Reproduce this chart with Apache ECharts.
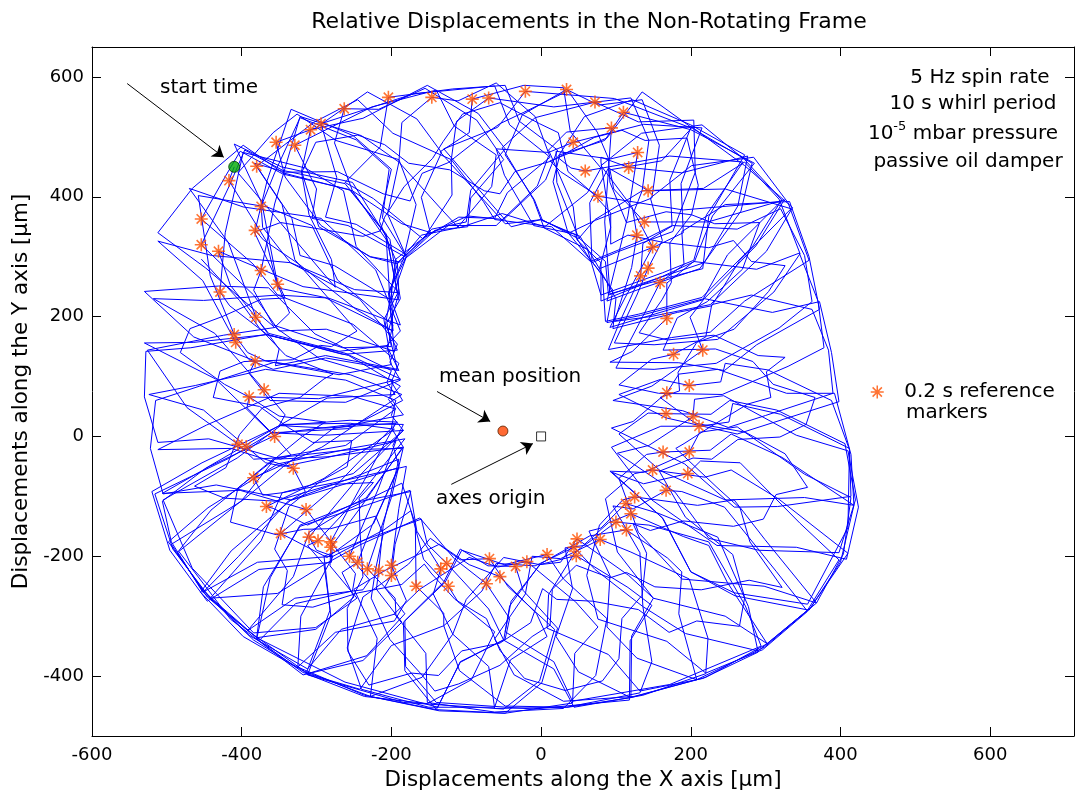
<!DOCTYPE html>
<html>
<head>
<meta charset="utf-8">
<title>Relative Displacements in the Non-Rotating Frame</title>
<script src="https://cdn.jsdelivr.net/npm/echarts@6/dist/echarts.min.js"></script>
<style>
  html, body { margin: 0; padding: 0; background: #fff; }
  #chart { width: 1077px; height: 801px; }
</style>
</head>
<body>
<div id="chart"></div>
<script>
// axis ticks
const xTicks = [-600, -400, -200, 0, 200, 400, 600]
const yTicks = [-400, -200, 0, 200, 400, 600]

// 0.2 s reference markers [x, y] in µm
const markers = [
  [-417, 427], [-374, 384], [-380, 451], [-354, 491], [-329, 486], [-308, 512], [-294, 522],
  [-263, 547], [-204, 566], [-146, 566], [-92, 563], [-70, 565], [-21, 576], [34, 579],
  [43, 491], [72, 558], [59, 443], [94, 515], [110, 541], [76, 401], [129, 474], [117, 449],
  [143, 410], [138, 358], [128, 336], [149, 316], [143, 281], [133, 268], [159, 257],
  [168, 197], [177, 137], [216, 144], [198, 85], [168, 73], [167, 38], [203, 33], [211, 17],
  [198, -26], [163, -26], [196, -62], [149, -56], [167, -90], [125, -101], [113, -112],
  [120, -129], [100, -143], [114, -156], [79, -172], [48, -171], [44, -185], [47, -199],
  [8, -197], [-19, -209], [-34, -217], [-55, -234], [-69, -204], [-73, -246], [-124, -250],
  [-126, -212], [-134, -221], [-167, -250], [-200, -232], [-200, -215], [-217, -224],
  [-232, -221], [-245, -210], [-256, -200], [-281, -185], [-281, -176], [-298, -174],
  [-310, -168], [-348, -162], [-314, -122], [-367, -117], [-331, -53], [-384, -69],
  [-394, -17], [-405, -13], [-356, 0], [-390, 66], [-370, 78], [-382, 126], [-408, 157],
  [-410, 170], [-381, 199], [-429, 241], [-352, 254], [-431, 309], [-454, 320], [-374, 277],
  [-454, 363], [-382, 344]
]

const startPoint = [[-410, 450]]
const meanPoint = [[-51, 9]]
const originPoint = [[0, 0]]

// annotation arrows: [tail, head] in µm
const arrows = [
  [[-553, 589], [-424, 466]],
  [[-139, 75], [-68, 25]],
  [[-120, -80], [-11, -12]]
]

// rotor orbit, µm: spin loops (one 0.2 s loop per line), then slower drifting passes
const orbit = [
  [-410, 450],
  [-417, 427], [-367, 326], [-352, 248], [-289, 232], [-198, 176], [-200, 250], [-180, 300], [-212, 365], [-203, 446], [-247, 495], [-322, 532], [-356, 440],
  [-374, 384], [-372, 349], [-335, 290], [-249, 245], [-190, 240], [-192, 290], [-158, 328], [-119, 403], [-120, 462], [-198, 506], [-245, 562], [-304, 524],
  [-380, 451], [-333, 364], [-322, 302], [-276, 285], [-201, 228], [-194, 296], [-148, 340], [-160, 399], [-133, 474], [-166, 530], [-232, 575], [-301, 515],
  [-354, 491], [-342, 433], [-294, 352], [-229, 300], [-192, 288], [-160, 336], [-112, 348], [-66, 417], [-60, 470], [-116, 518], [-140, 578], [-226, 550],
  [-329, 486], [-300, 413], [-306, 364], [-258, 352], [-182, 300], [-146, 346], [-100, 358], [-94, 411], [-48, 480], [-84, 539], [-152, 586], [-238, 531],
  [-308, 512], [-320, 443], [-297, 350], [-228, 300], [-188, 291], [-124, 352], [-60, 352], [-5, 418], [10, 468], [-42, 520], [-62, 585], [-170, 572],
  [-294, 522], [-273, 432], [-288, 366], [-247, 354], [-178, 302], [-142, 344], [-98, 350], [-94, 398], [-50, 462], [-86, 528], [-155, 581], [-217, 546],
  [-263, 547], [-276, 490], [-252, 410], [-186, 355], [-147, 340], [-98, 368], [-50, 362], [6, 428], [22, 478], [-29, 526], [-48, 586], [-118, 580],
  [-204, 566], [-215, 483], [-262, 424], [-224, 397], [-158, 330], [-110, 366], [-62, 364], [-45, 407], [12, 466], [-8, 534], [-60, 590], [-111, 560],
  [-146, 566], [-186, 524], [-190, 458], [-136, 383], [-110, 348], [-52, 372], [5, 350], [62, 407], [80, 448], [39, 509], [30, 582], [-23, 586],
  [-92, 563], [-96, 507], [-135, 475], [-106, 435], [-48, 355], [1, 362], [50, 330], [72, 362], [135, 410], [144, 494], [120, 565], [17, 550],
  [-70, 565], [-113, 526], [-120, 462], [-77, 392], [-62, 362], [14, 350], [66, 292], [140, 330], [175, 352], [172, 428], [200, 515], [98, 564],
  [-21, 576], [-58, 516], [-130, 480], [-99, 435], [-40, 350], [0, 362], [38, 340], [73, 361], [148, 398], [158, 486], [135, 562], [77, 553],
  [34, 579], [-25, 537], [-48, 470], [-9, 395], [2, 360], [52, 334], [78, 280], [154, 318], [190, 340], [187, 422], [215, 515], [137, 521],
  [43, 491], [10, 474], [-60, 480], [-49, 436], [-10, 352], [44, 338], [68, 290], [102, 308], [176, 342], [206, 441], [204, 528], [130, 525],
  [72, 558], [-8, 532], [-52, 482], [-10, 395], [4, 348], [62, 312], [80, 236], [162, 273], [204, 294], [221, 370], [270, 458], [172, 468],
  [59, 443], [40, 448], [22, 466], [58, 534], [122, 562], [200, 520], [272, 470], [224, 367], [216, 280], [170, 265], [92, 238], [85, 358],
  [94, 515], [34, 508], [10, 478], [43, 383], [48, 328], [80, 290], [80, 226], [162, 267], [205, 292], [229, 368], [285, 456], [200, 512],
  [110, 541], [85, 494], [25, 470], [16, 425], [36, 340], [82, 270], [86, 192], [130, 204], [215, 232], [283, 318], [320, 392], [190, 378],
  [76, 401], [26, 442], [12, 460], [88, 498], [135, 575], [205, 512], [282, 456], [267, 376], [212, 280], [134, 247], [88, 226], [116, 368],
  [129, 474], [92, 463], [20, 476], [21, 424], [50, 332], [86, 292], [90, 236], [134, 255], [218, 290], [263, 385], [276, 468], [188, 440],
  [117, 449], [80, 466], [80, 458], [93, 349], [78, 280], [100, 230], [96, 180], [182, 207], [228, 218], [265, 293], [334, 380], [246, 413],
  [143, 410], [134, 417], [90, 448], [65, 390], [68, 292], [96, 244], [88, 190], [133, 202], [218, 230], [287, 318], [325, 395], [223, 358],
  [138, 358], [97, 413], [92, 445], [161, 460], [202, 516], [272, 452], [336, 382], [301, 309], [226, 220], [146, 200], [98, 192], [121, 282],
  [128, 336], [122, 382], [80, 452], [134, 506], [215, 520], [272, 462], [322, 394], [249, 303], [216, 228], [170, 211], [92, 182], [112, 231],
  [149, 316], [124, 375], [135, 410], [217, 414], [272, 458], [318, 396], [346, 305], [311, 241], [236, 162], [151, 153], [98, 156], [128, 236],
  [143, 281], [162, 327], [146, 398], [201, 452], [284, 466], [330, 390], [358, 294], [272, 226], [226, 174], [174, 165], [90, 145], [104, 188],
  [133, 268], [136, 322], [176, 352], [262, 346], [320, 380], [352, 302], [362, 225], [318, 181], [234, 122], [151, 112], [100, 114], [137, 203],
  [159, 257], [191, 287], [188, 342], [246, 387], [332, 392], [358, 300], [372, 212], [288, 153], [245, 110], [184, 123], [92, 124], [122, 142],
  [168, 197], [168, 256], [204, 292], [288, 279], [345, 306], [370, 226], [378, 148], [330, 117], [242, 70], [157, 72], [104, 86], [148, 129],
  [177, 137], [220, 166], [228, 220], [281, 236], [362, 212], [384, 144], [390, 72], [300, 35], [250, 15], [189, 43], [96, 60], [148, 84],
  [216, 144], [199, 199], [218, 230], [309, 207], [372, 225], [388, 140], [398, 58], [350, 39], [262, 4], [167, 31], [104, 70], [159, 95],
  [198, 85], [240, 91], [246, 122], [303, 111], [388, 60], [412, -22], [414, -100], [316, -117], [258, -118], [192, -46], [94, 14], [123, 25],
  [168, 73], [184, 104], [236, 112], [328, 72], [392, 72], [414, -30], [418, -115], [352, -102], [246, -106], [159, -57], [104, 4], [143, 39],
  [167, 38], [227, 37], [252, 60], [315, 44], [406, -12], [420, -106], [398, -194], [291, -190], [224, -170], [179, -93], [102, -28], [144, -15],
  [203, 33], [205, 62], [244, 68], [341, 2], [410, -24], [424, -118], [408, -205], [341, -185], [235, -182], [148, -106], [94, -18], [160, 17],
  [211, 17], [251, 24], [256, 55], [320, 37], [412, -20], [410, -152], [356, -280], [258, -261], [200, -226], [162, -136], [92, -58], [137, -60],
  [198, -26], [212, 7], [262, 16], [352, -63], [414, -102], [404, -196], [368, -278], [298, -250], [188, -238], [130, -160], [104, -70], [141, -30],
  [163, -26], [226, -23], [254, 4], [322, -35], [418, -115], [400, -210], [358, -290], [259, -266], [200, -226], [163, -137], [95, -60], [137, -79],
  [196, -62], [213, -41], [266, -44], [346, -145], [398, -206], [356, -290], [302, -346], [246, -300], [150, -270], [102, -193], [86, -104], [125, -62],
  [149, -56], [219, -68], [254, -56], [318, -105], [410, -195], [360, -286], [290, -358], [193, -329], [136, -284], [132, -194], [96, -116], [123, -121],
  [167, -90], [188, -92], [245, -118], [314, -225], [356, -292], [296, -356], [220, -395], [168, -342], [76, -305], [61, -232], [78, -148], [109, -106],
  [125, -101], [209, -115], [258, -106], [299, -172], [368, -278], [298, -352], [208, -406], [128, -370], [88, -318], [92, -232], [64, -158], [80, -153],
  [113, -112], [156, -128], [236, -168], [277, -284], [290, -360], [216, -404], [132, -425], [90, -364], [8, -320], [10, -264], [44, -196], [90, -144],
  [120, -129], [190, -167], [224, -182], [249, -244], [302, -346], [220, -402], [120, -436], [50, -393], [20, -334], [42, -254], [32, -186], [58, -182],
  [100, -143], [144, -148], [224, -176], [273, -283], [294, -350], [172, -414], [42, -442], [17, -376], [-48, -326], [-40, -275], [0, -212], [65, -166],
  [114, -156], [169, -203], [188, -226], [184, -296], [208, -406], [124, -434], [30, -442], [-36, -398], [-62, -338], [-21, -263], [-12, -200], [26, -204],
  [79, -172], [120, -193], [198, -238], [223, -337], [220, -396], [136, -432], [44, -452], [17, -388], [-50, -340], [-42, -283], [-2, -214], [26, -210],
  [48, -171], [117, -232], [150, -270], [121, -333], [120, -436], [36, -452], [-48, -450], [-109, -391], [-130, -316], [-79, -258], [-60, -212], [-8, -216],
  [44, -185], [72, -222], [136, -284], [148, -376], [132, -428], [34, -452], [-62, -454], [-70, -384], [-118, -330], [-100, -272], [-50, -202], [-2, -214],
  [47, -199], [116, -252], [148, -282], [119, -341], [118, -440], [-10, -455], [-140, -444], [-181, -384], [-182, -308], [-128, -243], [-106, -190], [-49, -214],
  [8, -197], [30, -238], [88, -304], [73, -399], [30, -454], [-62, -460], [-152, -444], [-154, -362], [-196, -296], [-162, -255], [-96, -202], [-58, -218],
  [-19, -209], [46, -276], [76, -318], [45, -362], [42, -445], [-48, -462], [-140, -456], [-182, -391], [-184, -310], [-130, -243], [-108, -188], [-71, -216],
  [-34, -217], [-24, -257], [22, -320], [1, -411], [-48, -462], [-136, -458], [-228, -434], [-219, -337], [-250, -255], [-209, -224], [-136, -180], [-96, -214],
  [-55, -234], [-6, -296], [8, -334], [-41, -373], [-62, -452], [-150, -452], [-240, -422], [-259, -353], [-238, -268], [-177, -213], [-148, -170], [-108, -206],
  [-69, -204], [-44, -251], [18, -322], [-2, -408], [-50, -455], [-184, -444], [-312, -398], [-281, -298], [-290, -214], [-242, -181], [-162, -136], [-116, -204],
  [-73, -246], [-42, -304], [-48, -338], [-108, -377], [-140, -456], [-236, -432], [-325, -385], [-321, -300], [-278, -200], [-210, -156], [-174, -124], [-157, -205],
  [-124, -250], [-111, -276], [-62, -326], [-93, -406], [-152, -446], [-236, -434], [-314, -396], [-282, -290], [-290, -200], [-241, -175], [-160, -138], [-152, -180],
  [-126, -212], [-70, -288], [-50, -340], [-108, -376], [-138, -452], [-262, -410], [-380, -336], [-371, -251], [-322, -150], [-232, -114], [-175, -90], [-166, -158],
  [-134, -221], [-144, -263], [-118, -330], [-159, -402], [-228, -434], [-316, -392], [-392, -324], [-331, -234], [-310, -160], [-264, -125], [-186, -78], [-168, -146],
  [-167, -250], [-130, -295], [-130, -316], [-200, -349], [-242, -422], [-318, -394], [-380, -338], [-362, -236], [-322, -148], [-240, -108], [-174, -92], [-195, -180],
  [-200, -232], [-209, -252], [-182, -296], [-233, -366], [-312, -396], [-384, -340], [-442, -270], [-374, -174], [-346, -94], [-279, -78], [-180, -50], [-190, -120],
  [-200, -215], [-180, -274], [-196, -308], [-275, -327], [-326, -386], [-398, -334], [-455, -260], [-414, -191], [-334, -106], [-246, -66], [-190, -38], [-211, -149],
  [-217, -224], [-220, -255], [-186, -310], [-238, -374], [-318, -398], [-415, -305], [-484, -192], [-400, -107], [-356, -38], [-286, -34], [-184, -18], [-200, -102],
  [-232, -221], [-195, -270], [-194, -296], [-267, -322], [-312, -388], [-390, -332], [-450, -258], [-404, -200], [-338, -108], [-248, -74], [-190, -52], [-226, -149],
  [-245, -210], [-266, -227], [-250, -268], [-301, -322], [-380, -336], [-446, -268], [-494, -180], [-399, -107], [-344, -50], [-285, -35], [-194, -8], [-217, -86],
  [-256, -200], [-229, -240], [-238, -256], [-329, -270], [-392, -324], [-450, -262], [-486, -194], [-441, -123], [-356, -36], [-255, -22], [-186, -20], [-242, -120],
  [-281, -185], [-282, -216], [-246, -270], [-301, -319], [-384, -328], [-466, -220], [-505, -106], [-406, -36], [-348, 18], [-287, 14], [-194, 22], [-230, -59],
  [-281, -176], [-248, -229], [-252, -258], [-328, -279], [-376, -340], [-448, -262], [-498, -176], [-445, -119], [-352, -46], [-251, -19], [-182, -4], [-248, -107],
  [-298, -174], [-312, -182], [-290, -214], [-352, -262], [-442, -270], [-492, -188], [-516, -96], [-418, -37], [-360, 6], [-288, 2], [-184, 10], [-239, -61],
  [-310, -168], [-300, -190], [-278, -200], [-379, -210], [-452, -260], [-494, -176], [-506, -108], [-448, -53], [-350, 18], [-255, 27], [-192, 24], [-278, -87],
  [-348, -162], [-335, -170], [-286, -202], [-224, -146], [-190, -50], [-198, -15], [-184, 20], [-246, 21], [-348, 6], [-443, -50], [-506, -95], [-402, -90],
  [-314, -122], [-279, -178], [-280, -210], [-377, -222], [-446, -275], [-496, -190], [-520, -92], [-453, -44], [-346, 20], [-255, 22], [-196, 12], [-290, -70],
  [-367, -117], [-358, -120], [-312, -148], [-234, -103], [-184, -18], [-200, 14], [-195, 46], [-252, 67], [-350, 72], [-447, 19], [-512, -22], [-414, -20],
  [-331, -53], [-315, -92], [-334, -106], [-434, -81], [-505, -96], [-522, -20], [-515, 60], [-456, 84], [-356, 124], [-255, 103], [-186, 70], [-293, -18],
  [-384, -69], [-372, -98], [-346, -94], [-251, -62], [-184, 10], [-200, 35], [-194, 60], [-261, 94], [-368, 112], [-462, 85], [-524, 70], [-451, 44],
  [-394, -17], [-368, -44], [-344, -50], [-278, 13], [-184, 36], [-202, 65], [-198, 94], [-296, 130], [-355, 182], [-424, 169], [-526, 144], [-473, 48],
  [-405, -13], [-384, -38], [-356, -36], [-261, -15], [-194, 46], [-204, 62], [-188, 84], [-257, 135], [-366, 170], [-464, 157], [-530, 156], [-435, 96],
  [-356, 0], [-334, -31], [-348, -38], [-444, -4], [-512, -10], [-530, 66], [-528, 142], [-468, 148], [-368, 170], [-262, 139], [-188, 96], [-297, 63],
  [-390, 66], [-393, 48], [-360, 6], [-258, 13], [-185, 60], [-200, 91], [-190, 122], [-251, 187], [-352, 236], [-451, 227], [-518, 230], [-436, 172],
  [-370, 78], [-342, 36], [-350, 18], [-286, 64], [-195, 70], [-206, 90], [-200, 110], [-302, 171], [-364, 248], [-431, 251], [-530, 242], [-464, 166],
  [-382, 126], [-390, 105], [-362, 60], [-261, 57], [-188, 94], [-202, 124], [-192, 154], [-243, 230], [-335, 290], [-440, 302], [-512, 326], [-452, 260],
  [-408, 157], [-390, 128], [-358, 112], [-288, 131], [-190, 110], [-205, 148], [-198, 186], [-272, 261], [-306, 352], [-366, 383], [-458, 402], [-442, 268],
  [-410, 170], [-392, 140], [-368, 126], [-270, 103], [-200, 120], [-206, 152], [-188, 176], [-221, 278], [-294, 364], [-398, 383], [-470, 414], [-418, 324],
  [-381, 199], [-350, 146], [-355, 118], [-288, 135], [-192, 112], [-204, 176], [-190, 240], [-247, 317], [-264, 410], [-315, 448], [-398, 474], [-422, 340],
  [-429, 241], [-416, 218], [-366, 170], [-265, 137], [-192, 144], [-208, 186], [-202, 228], [-207, 334], [-252, 424], [-347, 450], [-410, 488], [-373, 389],
  [-352, 254], [-336, 206], [-356, 182], [-448, 281], [-512, 340], [-466, 414], [-398, 486], [-345, 440], [-252, 410], [-205, 325], [-190, 228], [-318, 250],
  [-431, 309], [-415, 252], [-364, 172], [-270, 142], [-204, 152], [-210, 195], [-192, 238], [-207, 338], [-262, 422], [-345, 444], [-396, 478], [-417, 417],
  [-454, 320], [-384, 236], [-350, 176], [-287, 179], [-196, 142], [-202, 221], [-180, 300], [-205, 371], [-190, 458], [-240, 502], [-322, 534], [-356, 388],
  [-374, 277], [-384, 244], [-358, 186], [-265, 148], [-200, 150], [-206, 190], [-188, 230], [-202, 329], [-256, 412], [-345, 438], [-402, 476], [-420, 438],
  [-454, 363], [-385, 288], [-352, 236], [-284, 231], [-188, 186], [-203, 237], [-192, 288], [-216, 359], [-200, 446], [-251, 502], [-334, 546], [-366, 427],
  [-382, 344], [-371, 328], [-324, 288], [-247, 212], [-198, 176], [-204, 240], [-184, 296], [-167, 387], [-190, 462], [-274, 494], [-326, 538], [-358, 507],
  [-405, 440],
  [-275, 249], [-280, 295], [-310, 370], [-320, 440], [-301, 491], [-245, 503], [-209, 487], [-177, 456], [-122, 445], [-76, 410], [-55, 405], [-35, 442],
  [15, 460], [71, 499], [108, 511], [139, 494], [195, 498], [210, 419], [201, 370], [172, 323], [174, 257], [162, 229], [131, 173], [169, 161],
  [231, 169], [290, 135], [326, 132], [301, 108], [307, 65], [276, 54], [226, 16], [191, -12], [180, -20], [235, -85], [266, -120], [279, -176],
  [322, -252], [278, -240], [214, -256], [152, -251], [114, -227], [92, -236], [47, -215], [15, -255], [12, -315], [-12, -334], [-55, -382], [-110, -413],
  [-142, -425], [-160, -397], [-202, -339], [-227, -270], [-221, -221], [-211, -163], [-221, -133], [-281, -154], [-317, -155], [-354, -164], [-415, -143], [-405, -86],
  [-366, -48], [-317, 2], [-288, 24], [-350, 34], [-389, 65], [-423, 87], [-482, 140], [-469, 180], [-426, 200], [-374, 229], [-342, 231],
  [-383, 341], [-348, 357], [-290, 345], [-238, 334], [-215, 343], [-209, 366], [-183, 417], [-145, 464], [-131, 492], [-105, 538], [-55, 557], [-2, 522],
  [23, 507], [36, 442], [69, 406], [93, 373], [93, 321], [116, 336], [163, 324], [224, 315], [257, 327], [281, 292], [326, 285], [304, 242],
  [258, 179], [208, 157], [183, 107], [185, 76], [159, 65], [206, 22], [273, 7], [326, -29], [356, -85], [314, -97], [297, -138], [257, -150],
  [190, -141], [146, -157], [123, -146], [141, -195], [135, -265], [108, -304], [104, -371], [82, -408], [32, -424], [-22, -404], [-55, -357], [-73, -304],
  [-115, -272], [-147, -228], [-156, -213], [-186, -247], [-244, -261], [-305, -285], [-346, -281], [-339, -224], [-356, -188], [-337, -117], [-294, -74], [-259, -50],
  [-253, -7], [-305, -10], [-338, 15], [-376, 50], [-438, 65], [-429, 109], [-397, 125], [-332, 128], [-295, 152], [-280, 150], [-246, 176],
  [-329, 295], [-346, 387], [-383, 456], [-341, 441], [-272, 442], [-211, 405], [-175, 393], [-159, 439], [-124, 457], [-79, 501], [-55, 522], [-23, 541],
  [36, 577], [75, 508], [90, 464], [92, 424], [114, 357], [167, 375], [201, 370], [232, 355], [292, 357], [269, 279], [222, 225], [182, 198],
  [163, 144], [233, 146], [283, 125], [310, 87], [366, 65], [354, 20], [319, -1], [263, -5], [228, -38], [203, -36], [158, -58], [193, -135],
  [256, -197], [272, -269], [265, -317], [208, -308], [171, -327], [130, -289], [69, -275], [21, -272], [2, -254], [-14, -311], [-55, -345], [-106, -358],
  [-137, -399], [-173, -395], [-230, -415], [-258, -359], [-259, -287], [-238, -234], [-242, -158], [-243, -103], [-224, -77], [-279, -80], [-355, -108], [-423, -103],
  [-463, -83], [-421, -52], [-403, 3], [-372, 48], [-322, 65], [-290, 96], [-278, 104], [-341, 135], [-377, 182], [-403, 227], [-454, 296]
]

const font = 'DejaVu Sans'
const markerColor = '#ff5000'
const asterisk = 'path://M0,-7L0,7M-7,0L7,0M-5,-5L5,5M-5,5L5,-5'

const chart = echarts.init(document.getElementById('chart'))

const boxAxis = {
  type: 'value',
  axisLine: { show: true, onZero: false, lineStyle: { color: '#000', width: 1 } },
  splitLine: { show: false }
}

chart.setOption({
  animation: false,
  backgroundColor: '#fff',
  title: {
    text: 'Relative Displacements in the Non-Rotating Frame',
    left: 584,
    textAlign: 'center',
    top: 6,
    textStyle: { fontFamily: font, fontSize: 22, fontWeight: 'normal', color: '#000' }
  },
  grid: { left: 92, right: 3, top: 47, bottom: 65 },
  xAxis: [
    Object.assign({}, boxAxis, {
      min: -600, max: 712, position: 'bottom',
      axisTick: { inside: true, length: 9, customValues: xTicks, lineStyle: { color: '#000' } },
      axisLabel: { customValues: xTicks, color: '#000', fontFamily: font, fontSize: 18, margin: 10 },
      name: 'Displacements along the X axis [µm]',
      nameLocation: 'middle',
      nameGap: 33,
      nameTextStyle: { fontFamily: font, fontSize: 21.5, color: '#000' }
    }),
    Object.assign({}, boxAxis, {
      min: -600, max: 712, position: 'top',
      axisTick: { inside: true, length: 9, customValues: xTicks, lineStyle: { color: '#000' } },
      axisLabel: { show: false }
    })
  ],
  yAxis: [
    Object.assign({}, boxAxis, {
      min: -500, max: 650, position: 'left',
      axisTick: { inside: true, length: 9, customValues: yTicks, lineStyle: { color: '#000' } },
      axisLabel: { customValues: yTicks, color: '#000', fontFamily: font, fontSize: 18, margin: 8 },
      name: 'Displacements along the Y axis [µm]',
      nameLocation: 'middle',
      nameGap: 59,
      nameTextStyle: { fontFamily: font, fontSize: 21.5, color: '#000' }
    }),
    Object.assign({}, boxAxis, {
      min: -500, max: 650, position: 'right',
      axisTick: { inside: true, length: 9, customValues: yTicks, lineStyle: { color: '#000' } },
      axisLabel: { show: false }
    })
  ],
  legend: {
    left: 870,
    top: 382,
    padding: 0,
    itemWidth: 44,
    itemHeight: 13,
    symbolKeepAspect: true,
    selectedMode: false,
    textStyle: { fontFamily: font, fontSize: 20, color: '#000' },
    data: [{
      name: '0.2 s reference',
      icon: asterisk,
      itemStyle: { color: 'transparent', borderColor: markerColor, borderWidth: 1.5 }
    }]
  },
  graphic: [
    { type: 'text', x: 160, y: 88, style: { text: 'start time', font: '20px "DejaVu Sans"', fill: '#000', verticalAlign: 'middle' } },
    { type: 'text', x: 439, y: 377, style: { text: 'mean position', font: '20px "DejaVu Sans"', fill: '#000', verticalAlign: 'middle' } },
    { type: 'text', x: 436, y: 499, style: { text: 'axes origin', font: '20px "DejaVu Sans"', fill: '#000', verticalAlign: 'middle' } },
    { type: 'text', x: 906, y: 413, style: { text: 'markers', font: '20px "DejaVu Sans"', fill: '#000', verticalAlign: 'middle' } },
    { type: 'text', x: 980, y: 78, style: { text: '5 Hz spin rate', font: '20px "DejaVu Sans"', fill: '#000', align: 'center', verticalAlign: 'middle' } },
    { type: 'text', x: 973, y: 104, style: { text: '10 s whirl period', font: '20px "DejaVu Sans"', fill: '#000', align: 'center', verticalAlign: 'middle' } },
    {
      type: 'text', x: 963, y: 132,
      style: {
        text: '{n|10}{s|-5}{n| mbar pressure}',
        align: 'center', verticalAlign: 'middle', fill: '#000',
        rich: {
          n: { fontFamily: font, fontSize: 20, lineHeight: 24, verticalAlign: 'bottom' },
          s: { fontFamily: font, fontSize: 13, lineHeight: 24, verticalAlign: 'top' }
        }
      }
    },
    { type: 'text', x: 968, y: 162, style: { text: 'passive oil damper', font: '20px "DejaVu Sans"', fill: '#000', align: 'center', verticalAlign: 'middle' } }
  ],
  series: [
    {
      name: 'orbit',
      type: 'line',
      data: orbit,
      showSymbol: false,
      symbol: 'none',
      lineStyle: { color: '#0000ff', width: 1 },
      z: 2,
      silent: true
    },
    {
      name: '0.2 s reference',
      type: 'scatter',
      data: markers,
      symbol: asterisk,
      symbolSize: 13,
      itemStyle: { color: 'transparent', borderColor: markerColor, borderWidth: 1.6 },
      z: 3,
      silent: true
    },
    {
      name: 'start',
      type: 'scatter',
      data: startPoint,
      symbol: 'circle',
      symbolSize: 11,
      itemStyle: { color: '#00aa00', borderColor: '#003300', borderWidth: 1 },
      z: 4,
      silent: true
    },
    {
      name: 'mean',
      type: 'scatter',
      data: meanPoint,
      symbol: 'circle',
      symbolSize: 10,
      itemStyle: { color: '#ff4400', borderColor: '#552200', borderWidth: 1 },
      z: 4,
      silent: true
    },
    {
      name: 'origin',
      type: 'scatter',
      data: originPoint,
      symbol: 'rect',
      symbolSize: 9,
      itemStyle: { color: '#fff', borderColor: '#000', borderWidth: 1 },
      z: 4,
      silent: true
    },
    {
      name: 'arrows',
      type: 'line',
      data: [],
      silent: true,
      markLine: {
        silent: true,
        symbol: ['none', 'arrow'],
        symbolSize: 11,
        label: { show: false },
        lineStyle: { color: '#000', width: 1, type: 'solid' },
        itemStyle: { color: '#000' },
        data: arrows.map(a => [{ coord: a[0] }, { coord: a[1] }])
      }
    }
  ]
})
</script>
</body>
</html>
